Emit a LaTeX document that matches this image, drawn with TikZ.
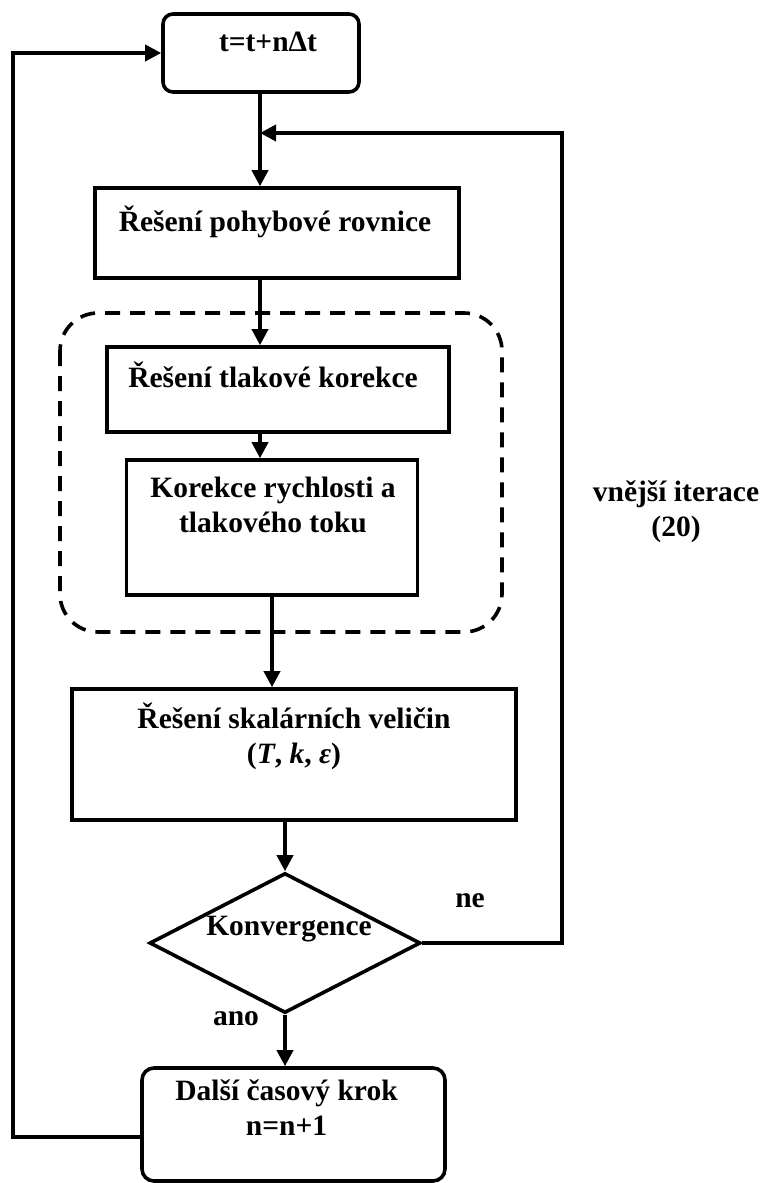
\documentclass[tikz,border=0pt]{standalone}
\usepackage{fontspec}
\setmainfont{Liberation Serif}
\usepackage{tikz}
\usetikzlibrary{shapes,arrows.meta,positioning}

\tikzset{
    block/.style={draw, line width=3.6pt, inner sep=0pt},
    txt/.style={font=\bfseries\fontsize{29.5}{34.5}\selectfont, align=center, inner sep=0pt},
    arr/.style={line width=3.6pt, -{Triangle[length=16pt,width=16pt]}},
    line/.style={line width=3.6pt}
}

\begin{document}
\begin{tikzpicture}[x=1pt,y=-1pt]
    \useasboundingbox (0,0) rectangle (760,1183);

    % Time step
    \node[block, rounded corners=10pt, minimum width=196pt, minimum height=78pt] (tstep) at (261,53) {};
    \node[txt, anchor=base] (tstepT) at (268,51) {t=t+nΔt};

    % Momentum equation
    \node[block, minimum width=364pt, minimum height=90pt] (pohyb) at (277,233) {};
    \node[txt, anchor=base] (pohybT) at (275,231) {Řešení pohybové rovnice};

    % Pressure correction loop
    \draw[line width=3.6pt, dash pattern=on 15pt off 10pt, rounded corners=38pt] (60,313) rectangle (502,632);
    \node[block, minimum width=342pt, minimum height=85pt] (tlak) at (278,389.5) {};
    \node[txt, anchor=base] (tlakT) at (273,387) {Řešení tlakové korekce};
    \node[block, minimum width=291pt, minimum height=135pt] (korekce) at (272,527.5) {};
    \node[txt, anchor=base] (korekceT) at (273,532) {Korekce rychlosti a\\tlakového toku};

    % Scalars
    \node[block, minimum width=444pt, minimum height=131pt] (skalar) at (294,754.5) {};
    \node[txt, anchor=base] (skalarT) at (294,763) {Řešení skalárních veličin\\(\textit{T}, \textit{k}, \textit{ε})};

    % Convergence test
    \node[block, diamond, aspect=1.94, minimum width=271pt, minimum height=140pt] (konv) at (285,943) {};
    \node[txt, anchor=base] (konvT) at (289,935) {Konvergence};
    \node[txt, anchor=base] (ne) at (470,907) {ne};
    \node[txt, anchor=base] (ano) at (236,1025) {ano};

    % Next time step
    \node[block, rounded corners=12pt, minimum width=303pt, minimum height=113pt] (dalsi) at (293.5,1124.5) {};
    \node[txt, anchor=base] (dalsiT) at (286.5,1135) {Další časový krok\\n=n+1};

    % Outer iteration label
    \node[txt, anchor=base] (vnejsi) at (676,536) {vnější iterace\\(20)};

    % Connectors
    \coordinate (colA) at (260,0);
    \coordinate (merge) at (260,133);
    \coordinate (rloop) at (562,133);
    \coordinate (lloop) at (13,1137);

    \draw[arr] (colA |- tstep.south) -- (colA |- pohyb.north);
    \draw[arr] (colA |- pohyb.south) -- (colA |- tlak.north);
    \draw[arr] (colA |- tlak.south) -- (colA |- korekce.north);
    \draw[arr] (korekce.south) -- (korekce.south |- skalar.north);
    \draw[arr] (konv.north |- skalar.south) -- (konv.north);
    \draw[arr] (konv.south) -- (konv.south |- dalsi.north);
    \draw[arr] (konv.east) -| (rloop) -- (merge);
    \draw[arr] (lloop -| dalsi.west) -- (lloop) |- (tstep.west);
\end{tikzpicture}
\end{document}
